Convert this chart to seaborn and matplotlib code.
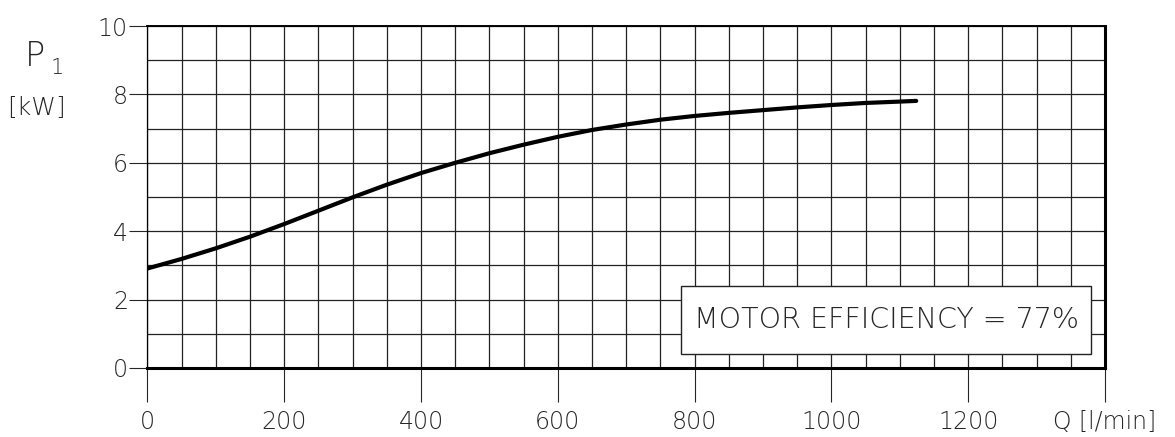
import matplotlib
matplotlib.use('Agg')
import matplotlib.pyplot as plt
import seaborn as sns
import pandas as pd
from matplotlib.ticker import MultipleLocator
from matplotlib.patches import Rectangle

# Q [l/min] ve P1 [kW] degerleri
q_values = [0, 50, 100, 150, 200, 250, 300, 350, 400, 450, 500, 550, 600, 650,
            700, 750, 800, 850, 900, 950, 1000, 1050, 1100, 1124]
p1_values = [2.91, 3.19, 3.5, 3.84, 4.21, 4.6, 4.99, 5.36, 5.7, 6.0, 6.28, 6.53,
             6.76, 6.96, 7.12, 7.26, 7.37, 7.46, 7.54, 7.62, 7.69, 7.75, 7.79, 7.81]
x_ticks = [0, 200, 400, 600, 800, 1000, 1200, 1400]
x_labels = ['0', '200', '400', '600', '800', '1000', '1200', 'Q [l/min]']
y_ticks = [0, 2, 4, 6, 8, 10]
note = 'MOTOR EFFICIENCY = 77%'

df = pd.DataFrame({'Q': q_values, 'P1': p1_values})

sns.set_style('white')
plt.rcParams['font.family'] = ['DejaVu Sans']

fig = plt.figure(figsize=(11.75, 4.37), dpi=100)
ax = fig.add_axes([0.1255, 0.1579, 0.8149, 0.7826])

sns.lineplot(x='Q', y='P1', data=df, ax=ax, color='black', linewidth=3.0)

ax.set_xlim(0, 1400)
ax.set_ylim(0, 10)

# izgara cizgileri
ax.xaxis.set_major_locator(MultipleLocator(200))
ax.xaxis.set_minor_locator(MultipleLocator(50))
ax.yaxis.set_major_locator(MultipleLocator(2))
ax.yaxis.set_minor_locator(MultipleLocator(1))
ax.grid(which='both', color='#222222', linewidth=0.9)
ax.set_axisbelow(True)

ax.set_xticks(x_ticks)
ax.set_xticklabels(x_labels)
ax.set_yticks(y_ticks)
ax.set_yticklabels([str(v) for v in y_ticks])
ax.tick_params(axis='x', which='major', direction='out', length=24.5, width=0.8,
               pad=6, labelsize=17, bottom=True)
ax.tick_params(axis='y', which='major', direction='out', length=13, width=0.8,
               pad=1, labelsize=17, left=True)
ax.tick_params(which='minor', length=0)
for lab in ax.get_xticklabels() + ax.get_yticklabels():
    lab.set_fontweight('light')

ax.set_xlabel('')
ax.set_ylabel('')

for side, lw in [('left', 0.9), ('top', 1.4), ('bottom', 2.2), ('right', 2.2)]:
    ax.spines[side].set_visible(True)
    ax.spines[side].set_color('black')
    ax.spines[side].set_linewidth(lw)

# verim kutusu
ax.add_patch(Rectangle((780, 0.41), 599, 1.99, facecolor='white',
                       edgecolor='#222222', linewidth=1.0, zorder=3))
ax.text(1080, 1.4, note, ha='center', va='center', fontsize=20.5,
        fontweight='light', zorder=4)

# eksen basligi
fig.text(0.021, 0.87, 'P', fontsize=24, fontweight='light', ha='left', va='center')
fig.text(0.043, 0.845, '1', fontsize=15, fontweight='light', ha='left', va='center')
fig.text(0.006, 0.753, '[kW]', fontsize=18, fontweight='light', ha='left', va='center')

fig.savefig('out.png', dpi=100)
